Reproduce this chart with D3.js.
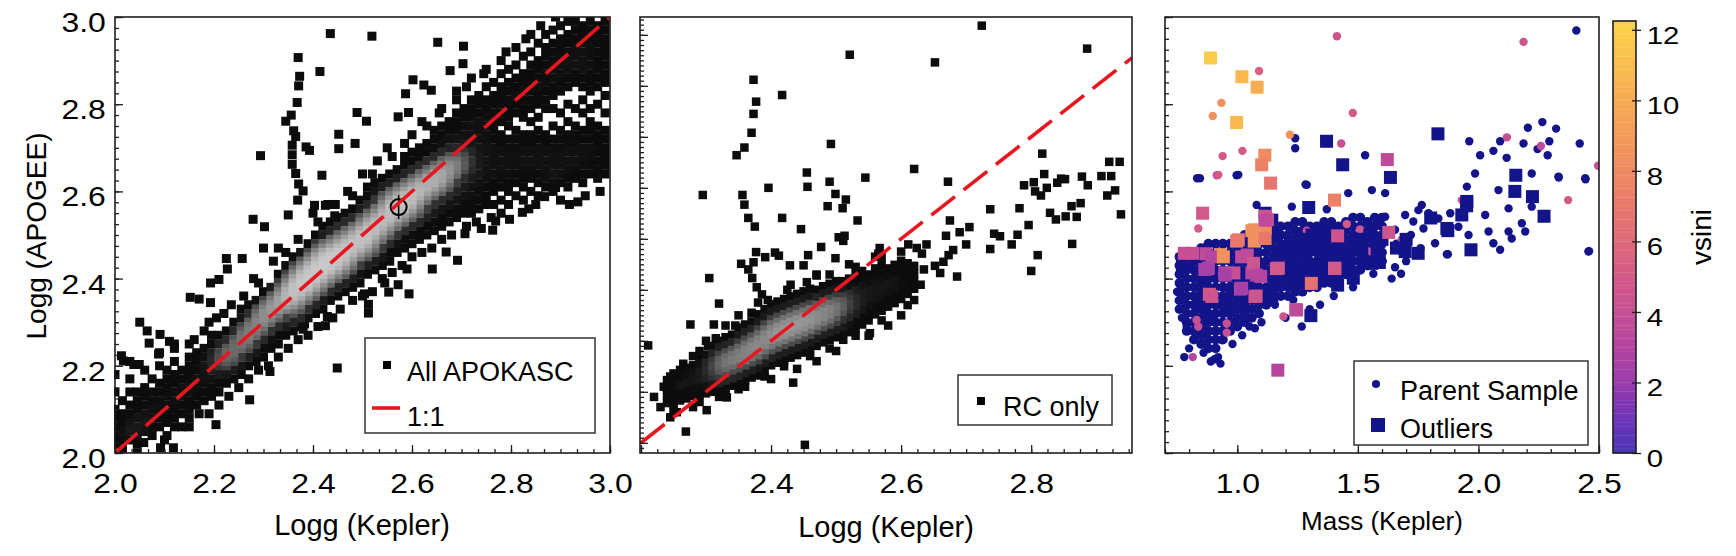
<!DOCTYPE html>
<html>
<head>
<meta charset="utf-8">
<script src="https://cdn.jsdelivr.net/npm/d3@7"></script>
<style>
  body { margin: 0; background: #fff; }
  svg text { font-family: "Liberation Sans", Arial, Helvetica, sans-serif; fill: #000; }
</style>
</head>
<body>
<svg id="chart" width="1736" height="556"></svg>
<script>
// ---- values ----
// panel 1: all APOKASC, dense band as columns [logg Kepler, [logg APOGEE ...]]
const p1Band = [
  [2.000,[2.02,2.04,2.06,2.08,2.10,2.14,2.18]],
  [2.015,[2.01,2.03,2.05,2.07,2.09,2.12]],
  [2.030,[2.03,2.05,2.07,2.09,2.11,2.14,2.17,2.21]],
  [2.045,[2.00,2.02,2.04,2.06,2.08,2.10,2.12,2.14]],
  [2.060,[2.05,2.07,2.09,2.11,2.13,2.15,2.19]],
  [2.075,[2.04,2.06,2.08,2.10,2.12,2.14,2.17]],
  [2.090,[2.06,2.08,2.10,2.12,2.14,2.16,2.20,2.23]],
  [2.105,[2.04,2.07,2.09,2.11,2.13,2.15,2.17,2.19]],
  [2.120,[2.06,2.08,2.10,2.12,2.14,2.16,2.18,2.21,2.25]],
  [2.135,[2.06,2.09,2.11,2.13,2.15,2.17,2.19]],
  [2.150,[2.08,2.10,2.12,2.14,2.16,2.18,2.20,2.22,2.25]],
  [2.165,[2.11,2.13,2.15,2.17,2.19,2.21,2.23]],
  [2.180,[2.12,2.14,2.16,2.18,2.20,2.22,2.24,2.28]],
  [2.195,[2.13,2.15,2.17,2.19,2.21,2.23,2.25,2.27]],
  [2.210,[2.14,2.16,2.18,2.20,2.21,2.22,2.23,2.25,2.27]],
  [2.225,[2.16,2.18,2.20,2.21,2.22,2.23,2.24,2.26,2.28]],
  [2.240,[2.17,2.19,2.21,2.22,2.23,2.24,2.25,2.26,2.28,2.30]],
  [2.255,[2.18,2.20,2.22,2.24,2.25,2.26,2.27,2.28,2.29,2.31,2.33]],
  [2.270,[2.20,2.22,2.24,2.25,2.26,2.27,2.28,2.29,2.30,2.32,2.34]],
  [2.285,[2.21,2.23,2.25,2.27,2.28,2.29,2.30,2.31,2.32,2.33,2.35]],
  [2.300,[2.22,2.24,2.26,2.28,2.29,2.30,2.31,2.32,2.33,2.34,2.35,2.37]],
  [2.315,[2.24,2.26,2.28,2.30,2.31,2.32,2.33,2.34,2.35,2.36,2.38]],
  [2.330,[2.25,2.27,2.29,2.31,2.32,2.33,2.34,2.35,2.36,2.37,2.38,2.39,2.41]],
  [2.345,[2.27,2.29,2.31,2.33,2.34,2.35,2.36,2.37,2.38,2.39,2.40,2.41,2.43]],
  [2.360,[2.28,2.30,2.32,2.33,2.34,2.35,2.36,2.37,2.38,2.39,2.40,2.41,2.42,2.43,2.45]],
  [2.375,[2.29,2.31,2.33,2.34,2.35,2.36,2.37,2.38,2.39,2.40,2.41,2.42,2.43,2.44,2.46]],
  [2.390,[2.31,2.33,2.35,2.36,2.37,2.38,2.39,2.40,2.41,2.42,2.43,2.44,2.45,2.46,2.48]],
  [2.405,[2.32,2.34,2.36,2.37,2.38,2.39,2.40,2.41,2.42,2.43,2.44,2.45,2.46,2.47,2.48,2.50]],
  [2.420,[2.33,2.35,2.37,2.38,2.39,2.40,2.41,2.42,2.43,2.44,2.45,2.46,2.47,2.48,2.50,2.52]],
  [2.435,[2.35,2.37,2.39,2.40,2.41,2.42,2.43,2.44,2.45,2.46,2.47,2.48,2.49,2.51,2.53]],
  [2.450,[2.36,2.38,2.40,2.41,2.42,2.43,2.44,2.45,2.46,2.47,2.48,2.49,2.50,2.52,2.54]],
  [2.465,[2.37,2.39,2.41,2.42,2.43,2.44,2.45,2.46,2.47,2.48,2.49,2.50,2.51,2.53,2.55]],
  [2.480,[2.38,2.40,2.42,2.43,2.44,2.45,2.46,2.47,2.48,2.49,2.50,2.51,2.52,2.54,2.56]],
  [2.495,[2.39,2.41,2.43,2.45,2.46,2.47,2.48,2.49,2.50,2.51,2.52,2.53,2.54,2.56,2.58]],
  [2.510,[2.41,2.43,2.45,2.46,2.47,2.48,2.49,2.50,2.51,2.52,2.53,2.54,2.55,2.57,2.59,2.61]],
  [2.525,[2.42,2.44,2.46,2.47,2.48,2.49,2.50,2.51,2.52,2.53,2.54,2.55,2.56,2.58,2.60,2.62]],
  [2.540,[2.43,2.45,2.47,2.49,2.50,2.51,2.52,2.53,2.54,2.55,2.56,2.57,2.58,2.59,2.61,2.63]],
  [2.555,[2.44,2.46,2.48,2.50,2.51,2.52,2.53,2.54,2.55,2.56,2.57,2.58,2.59,2.60,2.62,2.64]],
  [2.570,[2.46,2.48,2.50,2.52,2.53,2.54,2.55,2.56,2.57,2.58,2.59,2.60,2.61,2.63,2.65]],
  [2.585,[2.47,2.49,2.51,2.53,2.54,2.55,2.56,2.57,2.58,2.59,2.60,2.61,2.62,2.64,2.66,2.68]],
  [2.600,[2.48,2.50,2.52,2.54,2.55,2.56,2.57,2.58,2.59,2.60,2.61,2.62,2.63,2.65,2.67,2.69]],
  [2.615,[2.49,2.51,2.53,2.55,2.56,2.57,2.58,2.59,2.60,2.61,2.62,2.63,2.64,2.66,2.68,2.70]],
  [2.630,[2.50,2.52,2.54,2.56,2.58,2.59,2.60,2.61,2.62,2.63,2.64,2.65,2.67,2.69,2.71]],
  [2.645,[2.51,2.53,2.55,2.57,2.59,2.60,2.61,2.62,2.63,2.64,2.65,2.66,2.68,2.70,2.72,2.74]],
  [2.660,[2.52,2.54,2.56,2.58,2.60,2.61,2.62,2.63,2.64,2.65,2.66,2.67,2.69,2.71,2.73,2.75]],
  [2.675,[2.53,2.55,2.57,2.59,2.61,2.62,2.63,2.64,2.65,2.66,2.67,2.68,2.70,2.72,2.74,2.76]],
  [2.690,[2.54,2.56,2.58,2.60,2.62,2.64,2.65,2.66,2.67,2.68,2.70,2.72,2.74,2.76,2.78]],
  [2.705,[2.55,2.57,2.59,2.61,2.63,2.65,2.66,2.67,2.68,2.69,2.71,2.73,2.75,2.77,2.79]],
  [2.720,[2.55,2.57,2.59,2.61,2.63,2.65,2.67,2.69,2.71,2.73,2.75,2.77,2.79,2.81]],
  [2.735,[2.56,2.58,2.60,2.62,2.64,2.66,2.68,2.70,2.72,2.74,2.76,2.78,2.80,2.82]],
  [2.750,[2.57,2.59,2.61,2.63,2.65,2.67,2.69,2.71,2.73,2.75,2.77,2.79,2.81,2.84]],
  [2.765,[2.57,2.60,2.62,2.64,2.66,2.68,2.70,2.72,2.74,2.76,2.78,2.80,2.82,2.85]],
  [2.780,[2.58,2.61,2.63,2.65,2.67,2.69,2.71,2.73,2.76,2.78,2.80,2.82,2.84,2.87]],
  [2.795,[2.57,2.60,2.62,2.64,2.66,2.68,2.70,2.72,2.75,2.77,2.79,2.81,2.83,2.85,2.88]],
  [2.810,[2.59,2.62,2.64,2.66,2.68,2.70,2.72,2.74,2.78,2.80,2.82,2.84,2.86,2.89]],
  [2.825,[2.58,2.61,2.63,2.65,2.67,2.69,2.71,2.73,2.77,2.79,2.81,2.83,2.85,2.87,2.91]],
  [2.840,[2.60,2.63,2.65,2.67,2.69,2.71,2.73,2.76,2.79,2.81,2.83,2.85,2.87,2.89,2.92]],
  [2.855,[2.59,2.62,2.64,2.66,2.68,2.70,2.72,2.74,2.77,2.80,2.82,2.84,2.86,2.88,2.90,2.94]],
  [2.870,[2.61,2.63,2.65,2.67,2.69,2.71,2.73,2.79,2.81,2.83,2.85,2.87,2.89,2.91,2.93,2.96]],
  [2.885,[2.60,2.62,2.64,2.66,2.68,2.70,2.72,2.75,2.79,2.82,2.84,2.86,2.88,2.90,2.92,2.94,2.97]],
  [2.900,[2.62,2.64,2.66,2.68,2.70,2.72,2.74,2.78,2.83,2.85,2.87,2.89,2.91,2.93,2.95,2.98]],
  [2.915,[2.61,2.63,2.65,2.67,2.69,2.71,2.73,2.76,2.80,2.84,2.86,2.88,2.90,2.92,2.94,2.96,2.99]],
  [2.930,[2.63,2.65,2.67,2.69,2.71,2.73,2.75,2.79,2.85,2.87,2.89,2.91,2.93,2.95,2.97,2.99]],
  [2.945,[2.62,2.64,2.66,2.68,2.70,2.72,2.74,2.78,2.81,2.84,2.86,2.88,2.90,2.92,2.94,2.96,2.98]],
  [2.960,[2.64,2.66,2.68,2.70,2.72,2.74,2.76,2.79,2.83,2.85,2.87,2.89,2.91,2.93,2.95,2.97,2.99]],
  [2.975,[2.63,2.65,2.67,2.69,2.71,2.73,2.75,2.80,2.84,2.86,2.88,2.90,2.92,2.94,2.96,2.98]],
  [2.990,[2.64,2.66,2.68,2.70,2.72,2.74,2.78,2.82,2.85,2.87,2.89,2.91,2.93,2.95,2.97,2.99]]
];
// panel 1: scattered stars [logg Kepler, logg APOGEE]
const p1Scatter = [
  [2.435,2.962],[2.519,2.956],[2.652,2.942],[2.704,2.933],[2.370,2.907],[2.414,2.875],[2.373,2.864],
  [2.371,2.842],[2.602,2.856],[2.624,2.844],[2.639,2.832],[2.587,2.824],[2.368,2.804],[2.677,2.877],
  [2.703,2.893],[2.356,2.775],[2.345,2.761],[2.489,2.781],[2.508,2.761],[2.572,2.771],[2.593,2.781],
  [2.361,2.739],[2.365,2.726],[2.358,2.706],[2.386,2.702],[2.393,2.694],[2.452,2.731],[2.452,2.698],
  [2.485,2.710],[2.294,2.682],[2.358,2.684],[2.358,2.662],[2.418,2.637],[2.365,2.641],[2.371,2.617],
  [2.380,2.601],[2.369,2.580],[2.403,2.568],[2.425,2.568],[2.444,2.544],[2.279,2.536],[2.302,2.519],
  [2.350,2.546],[2.257,2.446],[2.225,2.446],[2.227,2.422],[2.210,2.398],[2.193,2.390],[2.152,2.357],
  [2.170,2.353],[2.193,2.345],[2.050,2.300],[2.065,2.280],[2.091,2.272],[2.069,2.252],[2.110,2.256],
  [2.013,2.223],[2.017,2.211],[2.038,2.203],[2.049,2.203],[2.088,2.227],[2.449,2.195],[2.545,2.390],
  [2.560,2.414],[2.590,2.422],[2.641,2.422],[2.692,2.442],[2.669,2.461],[2.707,2.503],[2.740,2.515],
  [2.763,2.511],[2.769,2.532],[2.797,2.536],[2.823,2.552],[2.512,2.321],[2.512,2.341],[2.504,2.365],
  [2.553,2.369],[2.572,2.386],[2.594,2.365],[2.425,2.292],[2.429,2.313],[2.380,2.284],[2.383,2.296],
  [2.313,2.187],[2.272,2.122],[2.204,2.065],[2.118,2.012],[2.092,2.012],[2.058,2.024],[2.064,2.049],
  [2.020,2.037],[2.868,2.588],[2.890,2.609],[2.918,2.570],[2.935,2.576],[2.836,2.560],
  [2.120,2.240],[2.160,2.260],[2.190,2.300],[2.220,2.320],[2.280,2.400],[2.320,2.440],[2.300,2.470],
  [2.330,2.470],[2.400,2.550],[2.430,2.570],[2.470,2.600],[2.500,2.640],[2.530,2.670],[2.550,2.700],
  [2.600,2.730],[2.620,2.760],[2.660,2.790],[2.690,2.830],[2.720,2.860],[2.750,2.880],[2.790,2.920],
  [2.830,2.950],[2.860,2.980],[2.890,3.000],[2.100,2.030],[2.150,2.060],[2.190,2.090],[2.230,2.130],
  [2.270,2.170],[2.310,2.200],[2.350,2.240],[2.390,2.270],[2.440,2.310],[2.480,2.350],[2.520,2.370],
  [2.580,2.430],[2.620,2.460],[2.660,2.490],[2.710,2.520],[2.760,2.540],
  [2.205,2.310],[2.235,2.340],[2.260,2.360],[2.290,2.390],[2.345,2.460],[2.370,2.490],[2.410,2.530],
  [2.445,2.570],[2.480,2.590],[2.520,2.640],[2.560,2.680],[2.585,2.710],[2.630,2.750],[2.655,2.780],
  [2.690,2.810],[2.710,2.840],[2.745,2.870],[2.780,2.900],[2.810,2.930],[2.840,2.960],
  [2.170,2.090],[2.210,2.110],[2.250,2.150],[2.290,2.190],[2.330,2.220],[2.370,2.260],[2.410,2.290],
  [2.455,2.330],[2.500,2.360],[2.540,2.400],[2.600,2.450],[2.640,2.470],[2.680,2.500],[2.730,2.530],
  [2.780,2.550],[2.850,2.570],[2.900,2.580],[2.950,2.590],[2.980,2.600]
];
const p1Marker = [2.573, 2.564];
const p1OneToOne = [2.0, 3.0];

// panel 2: red clump only
const p2Band = [
  [2.24,[2.278,2.293,2.308,2.323]],
  [2.25,[2.276,2.291,2.306,2.321,2.336]],
  [2.26,[2.283,2.298,2.313,2.328,2.343]],
  [2.27,[2.287,2.302,2.317,2.332,2.347]],
  [2.28,[2.292,2.307,2.322,2.337,2.352]],
  [2.29,[2.294,2.309,2.324,2.339,2.354,2.369]],
  [2.30,[2.297,2.312,2.327,2.342,2.357,2.372]],
  [2.31,[2.300,2.315,2.330,2.340,2.350,2.360,2.375,2.390]],
  [2.32,[2.302,2.317,2.332,2.342,2.352,2.362,2.372,2.387,2.400]],
  [2.33,[2.307,2.322,2.337,2.347,2.357,2.367,2.377,2.392,2.407]],
  [2.34,[2.312,2.327,2.342,2.352,2.362,2.372,2.382,2.397,2.412]],
  [2.35,[2.316,2.331,2.346,2.356,2.366,2.376,2.386,2.396,2.411,2.426]],
  [2.36,[2.322,2.337,2.352,2.362,2.372,2.382,2.392,2.402,2.417,2.432]],
  [2.37,[2.328,2.343,2.358,2.368,2.378,2.388,2.398,2.408,2.423,2.438]],
  [2.38,[2.332,2.347,2.362,2.372,2.382,2.392,2.402,2.412,2.422,2.437,2.452]],
  [2.39,[2.342,2.357,2.372,2.382,2.392,2.402,2.412,2.422,2.432,2.447,2.462]],
  [2.40,[2.352,2.367,2.382,2.392,2.402,2.412,2.422,2.432,2.442,2.457,2.472]],
  [2.41,[2.357,2.372,2.387,2.397,2.407,2.417,2.427,2.437,2.447,2.462,2.477]],
  [2.42,[2.362,2.377,2.392,2.402,2.412,2.422,2.432,2.442,2.452,2.467,2.482]],
  [2.43,[2.367,2.382,2.397,2.407,2.417,2.427,2.437,2.447,2.457,2.472,2.487]],
  [2.44,[2.372,2.387,2.402,2.412,2.422,2.432,2.442,2.452,2.462,2.477,2.492]],
  [2.45,[2.377,2.392,2.407,2.417,2.427,2.437,2.447,2.457,2.467,2.482,2.497]],
  [2.46,[2.382,2.397,2.412,2.422,2.432,2.442,2.452,2.462,2.472,2.487,2.502]],
  [2.47,[2.390,2.405,2.420,2.430,2.440,2.450,2.460,2.470,2.485,2.500]],
  [2.48,[2.397,2.412,2.427,2.437,2.447,2.457,2.467,2.477,2.492,2.507]],
  [2.49,[2.402,2.417,2.432,2.442,2.452,2.462,2.472,2.482,2.497,2.512]],
  [2.50,[2.407,2.422,2.437,2.447,2.457,2.467,2.477,2.487,2.502,2.517]],
  [2.51,[2.412,2.427,2.442,2.457,2.467,2.477,2.487,2.502,2.517]],
  [2.52,[2.417,2.432,2.447,2.462,2.472,2.482,2.492,2.507,2.522]],
  [2.53,[2.424,2.439,2.454,2.469,2.484,2.499,2.514,2.529]],
  [2.54,[2.432,2.447,2.462,2.477,2.492,2.507,2.522,2.537]],
  [2.55,[2.440,2.455,2.470,2.485,2.500,2.515,2.530]],
  [2.56,[2.452,2.467,2.482,2.497,2.512,2.527,2.542]],
  [2.57,[2.459,2.474,2.489,2.504,2.519,2.534,2.549]],
  [2.58,[2.467,2.482,2.497,2.512,2.527,2.542]],
  [2.59,[2.474,2.489,2.504,2.519,2.534,2.549]],
  [2.60,[2.482,2.497,2.512,2.527,2.542,2.557]],
  [2.61,[2.492,2.507,2.522,2.537,2.552]],
  [2.62,[2.502,2.517,2.532,2.547]]
];
const p2Scatter = [
  [2.724,3.018],[2.521,2.961],[2.652,2.946],[2.373,2.912],[2.417,2.882],[2.377,2.869],[2.373,2.845],
  [2.370,2.808],[2.359,2.779],[2.347,2.764],[2.492,2.786],[2.455,2.730],[2.456,2.702],[2.295,2.686],
  [2.356,2.686],[2.359,2.667],[2.396,2.700],[2.490,2.712],[2.499,2.688],[2.515,2.677],[2.487,2.664],
  [2.510,2.660],[2.545,2.720],[2.620,2.737],[2.672,2.712],[2.789,2.705],[2.804,2.711],[2.806,2.693],
  [2.365,2.641],[2.375,2.624],[2.417,2.641],[2.446,2.619],[2.533,2.636],[2.675,2.636],[2.737,2.658],
  [2.782,2.660],[2.796,2.627],[2.504,2.603],[2.513,2.606],[2.511,2.596],[2.477,2.584],[2.457,2.568],
  [2.499,2.562],[2.450,2.548],[2.470,2.528],[2.377,2.574],[2.373,2.554],[2.354,2.551],[2.391,2.564],
  [2.406,2.573],[2.412,2.567],[2.429,2.548],[2.305,2.523],[2.365,2.540],[2.371,2.523],[2.378,2.505],
  [2.386,2.491],[2.669,2.606],[2.690,2.613],[2.705,2.623],[2.700,2.589],[2.680,2.578],[2.673,2.568],
  [2.665,2.555],[2.652,2.547],[2.660,2.533],[2.686,2.526],[2.611,2.589],[2.624,2.582],[2.632,2.571],
  [2.639,2.589],[2.737,2.580],[2.743,2.610],[2.752,2.605],[2.770,2.589],[2.779,2.608],[2.800,2.537],
  [2.810,2.568],[2.567,2.582],[2.565,2.571],[2.211,2.391],[2.269,2.222],[2.301,2.264],[2.332,2.289],
  [2.276,2.432],[2.312,2.432],[2.320,2.473],[2.452,2.196],[2.552,2.415],[2.511,2.402],[2.434,2.318],
  [2.303,2.389],[2.886,2.973],[2.817,2.767],[2.820,2.727],[2.824,2.700],[2.840,2.710],[2.846,2.718],
  [2.852,2.717],[2.878,2.722],[2.887,2.705],[2.908,2.723],[2.923,2.723],[2.920,2.751],[2.936,2.751],
  [2.815,2.685],[2.829,2.651],[2.838,2.638],[2.853,2.644],[2.862,2.664],[2.870,2.643],[2.876,2.670],
  [2.863,2.590],[2.917,2.685],[2.929,2.695],[2.938,2.648],
  [2.250,2.265],[2.280,2.270],[2.330,2.300],[2.360,2.310],[2.400,2.325],[2.440,2.345],[2.470,2.360],
  [2.500,2.380],[2.550,2.410],[2.580,2.430],[2.600,2.450],[2.620,2.480],[2.280,2.370],[2.300,2.400],
  [2.330,2.430],[2.350,2.450],[2.380,2.475],[2.430,2.510],[2.470,2.530],[2.520,2.550],[2.560,2.565],
  [2.600,2.575],[2.230,2.270],[2.220,2.290],[2.235,2.310],[2.245,2.250],
  [2.245,2.330],[2.265,2.355],[2.290,2.380],[2.315,2.405],[2.345,2.430],[2.370,2.455],[2.395,2.480],
  [2.425,2.500],[2.455,2.515],[2.490,2.530],[2.530,2.545],[2.570,2.565],[2.255,2.260],[2.290,2.280],
  [2.320,2.290],[2.350,2.305],[2.390,2.330],[2.420,2.350],[2.460,2.370],[2.490,2.385],[2.530,2.410],
  [2.570,2.440],[2.610,2.470],[2.630,2.510],[2.635,2.540]
];
const p2OneToOne = [2.2, 2.955];

// panel 3: mass vs logg, parent sample (dense part as columns) and outliers
const p3ParentBand = [
  [0.76,[2.33,2.35,2.37,2.39,2.41,2.43,2.45]],
  [0.79,[2.28,2.30,2.32,2.34,2.36,2.38,2.40,2.42,2.44,2.46]],
  [0.82,[2.26,2.28,2.30,2.32,2.34,2.36,2.38,2.40,2.42,2.44,2.46]],
  [0.85,[2.25,2.27,2.29,2.31,2.33,2.35,2.37,2.39,2.41,2.43,2.45,2.47]],
  [0.88,[2.24,2.26,2.28,2.30,2.32,2.34,2.36,2.38,2.40,2.42,2.44,2.46,2.48]],
  [0.91,[2.24,2.26,2.28,2.30,2.32,2.34,2.36,2.38,2.40,2.42,2.44,2.46,2.48]],
  [0.94,[2.26,2.28,2.30,2.32,2.34,2.36,2.38,2.40,2.42,2.44,2.46,2.48]],
  [0.97,[2.28,2.30,2.32,2.34,2.36,2.38,2.40,2.42,2.44,2.46,2.48]],
  [1.00,[2.29,2.31,2.33,2.35,2.37,2.39,2.41,2.43,2.45,2.47,2.49]],
  [1.03,[2.30,2.32,2.34,2.36,2.38,2.40,2.42,2.44,2.46,2.48,2.50]],
  [1.06,[2.31,2.33,2.35,2.37,2.39,2.41,2.43,2.45,2.47,2.49]],
  [1.09,[2.32,2.34,2.36,2.38,2.40,2.42,2.44,2.46,2.48,2.50]],
  [1.12,[2.34,2.36,2.38,2.40,2.42,2.44,2.46,2.48,2.50]],
  [1.15,[2.35,2.37,2.39,2.41,2.43,2.45,2.47,2.49,2.51]],
  [1.18,[2.36,2.38,2.40,2.42,2.44,2.46,2.48,2.50,2.52]],
  [1.21,[2.36,2.38,2.40,2.42,2.44,2.46,2.48,2.50,2.52]],
  [1.24,[2.37,2.39,2.41,2.43,2.45,2.47,2.49,2.51,2.53]],
  [1.27,[2.37,2.39,2.41,2.43,2.45,2.47,2.49,2.51,2.53]],
  [1.30,[2.38,2.40,2.42,2.44,2.46,2.48,2.50,2.52]],
  [1.33,[2.38,2.40,2.42,2.44,2.46,2.48,2.50,2.52]],
  [1.36,[2.39,2.41,2.43,2.45,2.47,2.49,2.51,2.53]],
  [1.39,[2.39,2.41,2.43,2.45,2.47,2.49,2.51,2.53]],
  [1.42,[2.40,2.42,2.44,2.46,2.48,2.50,2.52]],
  [1.45,[2.41,2.43,2.45,2.47,2.49,2.51,2.53]],
  [1.48,[2.42,2.44,2.46,2.48,2.50,2.52,2.54]],
  [1.51,[2.42,2.44,2.46,2.48,2.50,2.52,2.54]],
  [1.54,[2.43,2.45,2.47,2.49,2.51,2.53]],
  [1.57,[2.44,2.46,2.48,2.50,2.52,2.54]],
  [1.60,[2.44,2.46,2.48,2.50,2.52,2.54]]
];
// [mass, logg, vsini] ; vsini null = not measured (drawn navy)
const p3ParentScatter = [
  [2.406,2.969,null],[1.240,2.722,null],[1.240,2.699,null],[1.530,2.683,null],[2.265,2.759,null],
  [2.205,2.746,null],[2.322,2.744,null],[1.962,2.715,null],[2.090,2.715,null],[2.187,2.710,null],
  [2.294,2.715,null],[2.420,2.710,null],[2.245,2.697,null],[2.287,2.683,null],[2.062,2.693,null],
  [2.007,2.683,null],[2.117,2.677,null],[0.997,2.637,null],[0.833,2.630,null],[1.283,2.616,null],
  [2.444,2.628,null],[2.333,2.632,null],[2.459,2.463,null],[1.613,2.542,null],[1.654,2.512,null],
  [1.696,2.546,null],[1.730,2.531,null],[1.765,2.569,null],[1.793,2.550,null],[1.834,2.538,null],
  [1.883,2.550,null],[1.917,2.519,null],[1.945,2.580,null],[1.952,2.611,null],[1.986,2.641,null],
  [2.028,2.546,null],[2.042,2.508,null],[2.062,2.481,null],[2.090,2.466,null],[2.083,2.603,null],
  [2.125,2.508,null],[2.138,2.492,null],[2.180,2.527,null],[2.194,2.508,null],[2.221,2.565,null],
  [2.221,2.641,null],[2.125,2.561,null],[2.332,2.634,null],[2.443,2.630,null],[2.456,2.462,null],
  [1.873,2.456,null],[1.959,2.500,null],[1.820,2.481,null],[1.772,2.515,null],[1.751,2.557,null],
  [1.585,2.531,null],[1.558,2.603,null],[1.460,2.596,null],[1.613,2.596,null],[1.288,2.615,null],
  [1.371,2.559,null],[1.226,2.565,null],[1.080,2.569,null],[1.004,2.638,null],[0.845,2.630,null],
  [0.963,2.320,null],[0.935,2.259,null],[0.790,2.290,null],[1.073,2.286,null],[1.267,2.290,null],
  [1.343,2.340,null],[1.156,2.340,null],[1.232,2.351,null],[1.564,2.411,null],[1.679,2.411,null],
  [1.654,2.426,null],[1.869,2.456,null],[0.780,2.220,null],[0.800,2.240,null],[0.860,2.230,null],
  [0.920,2.220,null],[0.930,2.205,null],[0.905,2.215,null],[0.770,2.310,null],[0.750,2.370,null],
  [1.020,2.270,null],[1.050,2.290,null],[1.100,2.300,null],[1.200,2.310,null],[1.300,2.330,null],
  [1.400,2.360,null],[1.480,2.380,null],[1.640,2.400,null],[1.700,2.440,null],[1.760,2.470,null],
  [1.660,2.480,null],[1.720,2.500,null],[0.980,2.250,null],[0.890,2.210,null],
  [1.413,2.956,4.5],[2.187,2.943,4.5],[1.090,2.876,5.5],[0.934,2.803,8.5],[0.898,2.773,8.5],
  [1.479,2.780,5.0],[1.218,2.730,8.5],[1.431,2.710,4.0],[2.118,2.724,4.0],[2.259,2.704,3.5],
  [0.939,2.681,5.0],[1.021,2.693,5.0],[0.915,2.637,3.5],[2.496,2.659,4.0],[2.372,2.580,5.0],
  [0.815,2.220,3.0],[0.921,2.638,5.0],[0.838,2.515,5.0],[1.288,2.510,4.0],[1.454,2.525,5.0],
  [1.509,2.513,4.5],[1.682,2.490,4.0],[1.931,2.580,4.0],[0.838,2.290,4.0],[0.956,2.297,4.0],
  [0.956,2.276,4.0],[0.831,2.305,4.0],[1.191,2.313,4.5],[1.544,2.462,4.5]
];
const p3Outliers = [
  [1.370,2.715,null],[1.437,2.661,null],[1.635,2.632,null],[1.832,2.732,null],[1.296,2.563,null],
  [2.155,2.637,null],[2.151,2.600,null],[2.224,2.588,null],[2.272,2.543,null],[1.951,2.567,null],
  [1.873,2.510,null],[1.802,2.539,null],[1.969,2.466,null],[1.750,2.458,null],[1.589,2.437,null],
  [1.481,2.401,null],[1.416,2.385,null],[1.305,2.315,null],[0.772,2.433,null],[1.366,2.510,null],
  [1.952,2.577,null],[1.931,2.546,null],[1.869,2.515,null],[1.696,2.462,null],[1.364,2.496,null],
  [1.336,2.466,null],[1.253,2.466,null],[1.226,2.443,null],[1.281,2.427,null],[1.198,2.404,null],
  [1.447,2.450,null],[1.516,2.466,null],[1.558,2.435,null],[1.392,2.443,null],[1.115,2.550,null],
  [1.143,2.534,null],[0.797,2.435,null],[0.866,2.404,null],[0.977,2.374,null],[1.046,2.404,null],
  [1.087,2.427,null],[0.949,2.343,null],[1.018,2.336,null],[1.115,2.359,null],[0.852,2.336,null],
  [0.880,2.313,null],[1.170,2.389,null],[1.253,2.382,null],[1.322,2.404,null],[1.200,2.440,null],
  [1.240,2.460,null],[1.280,2.450,null],[1.320,2.430,null],[1.350,2.470,null],[1.400,2.470,null],
  [1.450,2.480,null],[1.500,2.490,null],[1.550,2.500,null],[1.600,2.490,null],[1.270,2.490,null],
  [1.310,2.500,null],[1.220,2.480,null],[1.180,2.460,null],[1.520,2.440,null],[1.460,2.420,null],
  [1.360,2.410,null],[1.300,2.400,null],[1.240,2.410,null],[1.160,2.500,null],[1.400,2.510,null],
  [1.660,2.470,null],[1.700,2.490,null],[1.580,2.460,null],
  [0.889,2.906,11.8],[1.019,2.863,10.8],[1.082,2.839,10.2],[0.997,2.758,10.8],[1.114,2.683,8.0],
  [1.101,2.661,7.5],[1.138,2.619,6.8],[1.403,2.580,7.5],[0.856,2.550,5.0],[1.622,2.673,3.5],
  [1.116,2.543,4.5],[1.060,2.510,8.5],[1.116,2.515,8.0],[0.997,2.486,7.0],[1.070,2.486,8.5],
  [0.930,2.455,8.5],[0.815,2.458,4.0],[0.870,2.457,3.5],[0.780,2.458,4.0],[1.416,2.498,4.5],
  [1.628,2.506,4.5],[1.162,2.423,5.0],[1.403,2.423,5.0],[1.307,2.389,6.5],[1.242,2.329,5.0],
  [1.168,2.190,3.0],[0.884,2.364,5.0],[1.013,2.376,3.0],[1.078,2.360,4.5],[1.041,2.454,3.5],
  [1.060,2.413,3.0],[0.948,2.413,3.0],[0.865,2.421,2.5],[0.986,2.413,4.0],[1.097,2.405,3.0],
  [1.125,2.535,4.0],[0.894,2.450,3.0],[0.942,2.450,8.5],[0.880,2.424,2.5],[0.949,2.408,2.5],
  [1.018,2.450,3.5],[1.067,2.435,4.5],[1.080,2.408,3.0],[1.018,2.378,2.5],[0.894,2.359,4.5],
  [1.073,2.359,4.5],[1.170,2.424,5.0],[1.405,2.424,5.0],[1.246,2.328,3.5],[1.004,2.489,7.0],
  [1.073,2.512,8.5],[1.115,2.492,7.0],[1.115,2.534,3.5]
];

const p1TickLabels = [2.0, 2.2, 2.4, 2.6, 2.8, 3.0];
const p2TickLabels = [2.4, 2.6, 2.8];
const p3TickLabels = [1.0, 1.5, 2.0, 2.5];
const vsiniTicks = [0, 2, 4, 6, 8, 10, 12];
const vsiniStops = [0, 1, 2, 3, 4, 5, 6, 7, 8, 9, 10, 11, 12];
const vsiniColors = ["#4b35b8", "#6f35b8", "#9b3cae", "#b5459f", "#c75094", "#d35a88", "#df6a7a",
                     "#e8786c", "#ef8a61", "#f39a5a", "#f7aa53", "#f9bd4e", "#fccf4a"];

// ---- drawing ----
const svg = d3.select("#chart");
const navy = "#14148a";
const red = "#e8171f";
const axisColor = "#1e1e1e";

const p1x = d3.scaleLinear().domain([2, 3]).range([115, 610]);
const p1y = d3.scaleLinear().domain([2, 3]).range([453, 17]);
const p2x = d3.scaleLinear().domain([2.2, 2.955]).range([641, 1132]);
const p2y = d3.scaleLinear().domain([2.18, 3.035]).range([453, 17]);
const p3x = d3.scaleLinear().domain([0.7, 2.5]).range([1165, 1599]);
const p3y = d3.scaleLinear().domain([2, 3]).range([453, 17]);
const cbY = d3.scaleLinear().domain([0, 12.25]).range([453, 21]);
const vsiniColor = d3.scaleLinear().domain(vsiniStops).range(vsiniColors).clamp(true);

function flatten(band) {
  const out = [];
  band.forEach(([x, ys]) => ys.forEach(y => out.push([x, y])));
  return out;
}

// grey level from local point density (like the original density-coloured scatter)
function densityNodes(pts, xs, ys, sigma, domain) {
  const nodes = pts.map(d => ({ px: xs(d[0]), py: ys(d[1]) }));
  const s2 = 2 * sigma * sigma, r2 = 9 * sigma * sigma;
  nodes.forEach(p => {
    let s = 0;
    nodes.forEach(q => {
      const dx = p.px - q.px, dy = p.py - q.py, dd = dx * dx + dy * dy;
      if (dd < r2) s += Math.exp(-dd / s2);
    });
    p.density = s;
  });
  const grey = d3.scaleLinear().domain(domain)
    .range(["#0c0c0c", "#383838", "#8e8e8e", "#ececec"]).clamp(true);
  nodes.forEach(p => (p.fill = grey(p.density)));
  return nodes.sort((a, b) => a.density - b.density);
}

function clipFor(id, xs, ys) {
  svg.append("clipPath").attr("id", id).append("rect")
    .attr("x", xs.range()[0] - 1).attr("y", ys.range()[1])
    .attr("width", xs.range()[1] - xs.range()[0] + 1).attr("height", ys.range()[0] - ys.range()[1]);
  return svg.append("g").attr("clip-path", `url(#${id})`);
}

function frame(x0, x1, y0, y1) {
  svg.append("rect").attr("x", x0).attr("y", y0).attr("width", x1 - x0).attr("height", y1 - y0)
    .attr("fill", "none").attr("stroke", axisColor).attr("stroke-width", 1.6);
}

function axisLayer(gen, tx, ty) {
  const g = svg.append("g").attr("transform", `translate(${tx},${ty})`).call(gen);
  g.select(".domain").remove();
  g.attr("font-family", null).attr("color", axisColor);
  g.selectAll(".tick line").attr("stroke-width", 1.3);
  g.selectAll(".tick text").attr("fill", "#000");
  return g;
}

function bottomAxis(xs, majors, minors, fmt) {
  const y0 = 453;
  axisLayer(d3.axisBottom(xs).tickValues(minors).tickSize(-4).tickFormat(""), 0, y0);
  const g = axisLayer(d3.axisBottom(xs).tickValues(majors).tickSize(-8).tickFormat(fmt), 0, y0);
  g.attr("font-size", 28);
  g.selectAll(".tick text").attr("y", 40).attr("dy", null).attr("transform", "scale(1.14,1)");
}

function leftAxis(ys, x0, majors, minors, fmt) {
  axisLayer(d3.axisLeft(ys).tickValues(minors).tickSize(-4).tickFormat(""), x0, 0);
  const g = axisLayer(d3.axisLeft(ys).tickValues(majors).tickSize(-8).tickPadding(8).tickFormat(fmt), x0, 0);
  g.attr("font-size", 28);
  g.selectAll(".tick text").attr("dy", "0.52em").attr("transform", "scale(1.14,1)");
}

function squares(g, nodes, size) {
  g.append("g").selectAll("rect").data(nodes).join("rect")
    .attr("x", d => d.px - size / 2).attr("y", d => d.py - size / 2)
    .attr("width", size).attr("height", size).attr("fill", d => d.fill);
}

function oneToOne(g, xs, ys, ends) {
  g.append("line")
    .attr("x1", xs(ends[0])).attr("y1", ys(ends[0]))
    .attr("x2", xs(ends[1])).attr("y2", ys(ends[1]))
    .attr("stroke", red).attr("stroke-width", 3.6).attr("stroke-dasharray", "30,11");
}

function legendBox(x0, y0, x1, y1) {
  svg.append("rect").attr("x", x0).attr("y", y0).attr("width", x1 - x0).attr("height", y1 - y0)
    .attr("fill", "#fff").attr("stroke", "#333").attr("stroke-width", 1.5);
}

function label(x, y, text, size, anchor, rotate) {
  const t = svg.append("text").attr("font-size", size).attr("text-anchor", anchor || "start").text(text);
  t.attr("transform", `translate(${x},${y})` + (rotate ? ` rotate(${rotate})` : ""));
  return t;
}

const fmt1 = d3.format(".1f");

// ---------- panel 1 ----------
const g1 = clipFor("clip1", p1x, p1y);
squares(g1, densityNodes(flatten(p1Band).concat(p1Scatter), p1x, p1y, 9, [7.5, 10, 13.5, 16.5]), 9);
const mk = g1.append("g").attr("transform", `translate(${p1x(p1Marker[0])},${p1y(p1Marker[1])})`);
mk.append("circle").attr("r", 8).attr("fill", "none").attr("stroke", "#000").attr("stroke-width", 2);
mk.append("line").attr("y1", -12).attr("y2", 12).attr("stroke", "#000").attr("stroke-width", 1.5);
oneToOne(g1, p1x, p1y, p1OneToOne);
frame(115, 610, 17, 453);
bottomAxis(p1x, p1TickLabels, d3.range(31).map(i => 2 + i / 30), fmt1);
leftAxis(p1y, 115, p1TickLabels, d3.range(41).map(i => 2 + i * 0.025), fmt1);
label(362, 535, "Logg (Kepler)", 29, "middle");
label(46, 236, "Logg (APOGEE)", 28, "middle", -90);
legendBox(365, 338, 595, 433);
svg.append("rect").attr("x", 383).attr("y", 361).attr("width", 8).attr("height", 8).attr("fill", "#000");
label(407, 381, "All APOKASC", 27);
svg.append("line").attr("x1", 372).attr("x2", 400).attr("y1", 408).attr("y2", 408)
  .attr("stroke", red).attr("stroke-width", 3.6);
label(407, 426, "1:1", 27);

// ---------- panel 2 ----------
const g2 = clipFor("clip2", p2x, p2y);
squares(g2, densityNodes(flatten(p2Band).concat(p2Scatter), p2x, p2y, 9, [9.5, 12, 14.5, 16.5]), 8.5);
oneToOne(g2, p2x, p2y, p2OneToOne);
frame(640, 1132, 17, 453);
bottomAxis(p2x, [2.2].concat(p2TickLabels), d3.range(31).map(i => 2.2 + i * 0.025),
  d => (p2TickLabels.includes(d) ? fmt1(d) : ""));
leftAxis(p2y, 640, d3.range(22, 31).map(i => i / 10), d3.range(219, 304).map(i => i / 100), () => "");
label(886, 537, "Logg (Kepler)", 29, "middle");
legendBox(958, 375, 1112, 425);
svg.append("rect").attr("x", 977).attr("y", 397).attr("width", 8).attr("height", 8).attr("fill", "#000");
label(1003, 416, "RC only", 27);

// ---------- panel 3 ----------
const g3 = clipFor("clip3", p3x, p3y);
g3.append("g").selectAll("circle").data(flatten(p3ParentBand)).join("circle")
  .attr("cx", d => p3x(d[0])).attr("cy", d => p3y(d[1])).attr("r", 4.9).attr("fill", navy);
const parent = p3ParentScatter.slice()
  .sort((a, b) => (a[2] === null ? 0 : 1) - (b[2] === null ? 0 : 1));
g3.append("g").selectAll("circle").data(parent).join("circle")
  .attr("cx", d => p3x(d[0])).attr("cy", d => p3y(d[1])).attr("r", 4.2)
  .attr("fill", d => (d[2] === null ? navy : vsiniColor(d[2])));
const outl = p3Outliers.slice().sort((a, b) => (a[2] === null ? 0 : 1) - (b[2] === null ? 0 : 1));
g3.append("g").selectAll("rect").data(outl).join("rect")
  .attr("x", d => p3x(d[0]) - 6.5).attr("y", d => p3y(d[1]) - 6.5).attr("width", 13).attr("height", 13)
  .attr("fill", d => (d[2] === null ? navy : vsiniColor(d[2])));
frame(1165, 1599, 17, 453);
bottomAxis(p3x, p3TickLabels, d3.range(7, 26).map(i => i / 10), fmt1);
leftAxis(p3y, 1165, p1TickLabels, d3.range(41).map(i => 2 + i * 0.025), () => "");
label(1382, 530, "Mass (Kepler)", 26, "middle");
legendBox(1354, 361, 1588, 445);
svg.append("circle").attr("cx", 1376).attr("cy", 384).attr("r", 4).attr("fill", navy);
label(1400, 400, "Parent Sample", 27);
svg.append("rect").attr("x", 1371).attr("y", 418).attr("width", 14).attr("height", 14).attr("fill", navy);
label(1400, 438, "Outliers", 27);

// ---------- colour bar ----------
const cbStep = 0.125;
svg.append("g").selectAll("rect").data(d3.range(0, 12.25, cbStep)).join("rect")
  .attr("x", 1613).attr("width", 23)
  .attr("y", d => cbY(d + cbStep)).attr("height", d => cbY(d) - cbY(d + cbStep) + 0.3)
  .attr("fill", d => vsiniColor(d + cbStep / 2));
frame(1613, 1636, 21, 453);
const cb = axisLayer(d3.axisRight(cbY).tickValues(vsiniTicks).tickSize(9).tickPadding(3).tickFormat(d3.format("d")), 1632, 0);
cb.attr("font-size", 24);
cb.selectAll(".tick text").attr("dy", "0.55em").attr("transform", "scale(1.22,1)");
label(1711, 237, "vsini", 28, "middle", -90);
</script>
</body>
</html>
